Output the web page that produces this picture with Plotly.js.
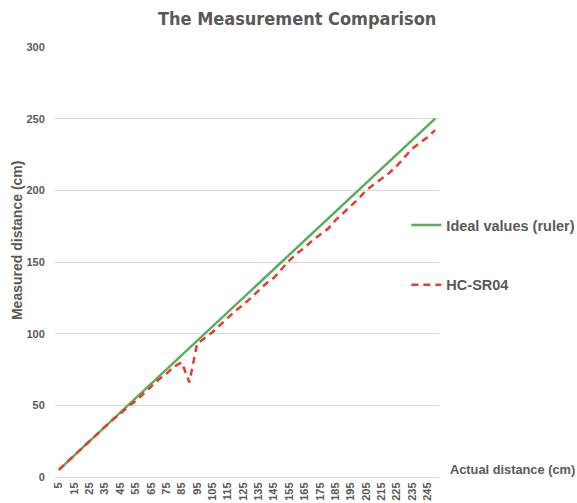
<!DOCTYPE html>
<html>
<head>
<meta charset="utf-8">
<script src="https://cdn.plot.ly/plotly-3.0.1.min.js"></script>
<style>html,body{margin:0;padding:0;background:#fff}#chart{width:577px;height:503px}</style>
</head>
<body>
<div id="chart"></div>
<script>
// Actual distance (cm) — categories
const distances = ['5','10','15','20','25','30','35','40','45','50','55','60','65','70','75','80','85','90','95','100',
  '105','110','115','120','125','130','135','140','145','150','155','160','165','170','175','180','185','190','195','200',
  '205','210','215','220','225','230','235','240','245','250'];
// Ideal values (ruler)
const idealValues = [5,10,15,20,25,30,35,40,45,50,55,60,65,70,75,80,85,90,95,100,
  105,110,115,120,125,130,135,140,145,150,155,160,165,170,175,180,185,190,195,200,
  205,210,215,220,225,230,235,240,245,250];
// HC-SR04 measured values
const hcsr04Values = [5,10,15,20,25,30,35,40,44,49,53,58,63,68,72,77,80,66,93,97,
  101,106,111,116,120,125,130,135,139,145,151,156,160,165,169,173,179,184,189,194,
  200,204,208,212,217,223,229,233,237,242];
// Tick labels shown on the x axis
const xTickLabels = ['5','15','25','35','45','55','65','75','85','95','105','115','125','135','145','155','165','175','185','195','205','215','225','235','245'];

const gray = '#595959';
const baseFont = {family: 'Liberation Sans, Arial, sans-serif', color: gray, weight: 'bold'};

const traces = [
  {x: distances, y: idealValues, type: 'scatter', mode: 'lines', name: 'Ideal values (ruler)',
   line: {color: '#5aad5a', width: 2.5}, legend: 'legend'},
  {x: distances, y: hcsr04Values, type: 'scatter', mode: 'lines', name: 'HC-SR04',
   line: {color: '#ea3a2c', width: 2.5, dash: '7px,5px'}, legend: 'legend2'}
];

const legendCommon = {
  font: Object.assign({}, baseFont, {size: 14.5}),
  bgcolor: 'rgba(0,0,0,0)', borderwidth: 0, xanchor: 'left', yanchor: 'middle'
};

const layout = {
  width: 577, height: 503,
  margin: {l: 55, r: 138, t: 47, b: 26, autoexpand: false},
  paper_bgcolor: '#fff', plot_bgcolor: '#fff',
  title: {text: 'The Measurement Comparison', x: 0.515, xanchor: 'center', y: 0.962, yanchor: 'middle',
    font: {family: 'DejaVu Sans Condensed, DejaVu Sans', size: 18, color: gray, weight: 'bold'}},
  xaxis: {type: 'category', range: [-0.5, distances.length - 0.5],
    tickmode: 'array', tickvals: xTickLabels, ticktext: xTickLabels,
    tickangle: -90, tickfont: Object.assign({}, baseFont, {size: 11}),
    showgrid: false, zeroline: false, showline: true, linecolor: '#d9d9d9', linewidth: 1,
    ticks: '', automargin: false, fixedrange: true},
  yaxis: {range: [0, 300], tickvals: [0, 50, 100, 150, 200, 250, 300],
    tickfont: Object.assign({}, baseFont, {size: 11}),
    showgrid: true, gridcolor: '#d9d9d9', gridwidth: 1, zeroline: false, showline: false,
    ticks: 'outside', ticklen: 7, tickcolor: 'rgba(0,0,0,0)',
    automargin: false, fixedrange: true},
  legend: Object.assign({}, legendCommon, {x: 0.915, y: 0.586}),
  legend2: Object.assign({}, legendCommon, {x: 0.915, y: 0.447}),
  annotations: [
    {text: 'Actual distance (cm)', xref: 'paper', yref: 'paper', x: 1.024, y: 0.018, xanchor: 'left', yanchor: 'middle',
     showarrow: false, font: Object.assign({}, baseFont, {size: 12.8})},
    {text: 'Measured distance (cm)', xref: 'paper', yref: 'paper', x: -0.099, y: 0.551, xanchor: 'center', yanchor: 'middle',
     textangle: -90, showarrow: false, font: Object.assign({}, baseFont, {size: 14})}
  ],
  showlegend: true
};

Plotly.newPlot('chart', traces, layout, {displayModeBar: false, staticPlot: true});
</script>
</body>
</html>
